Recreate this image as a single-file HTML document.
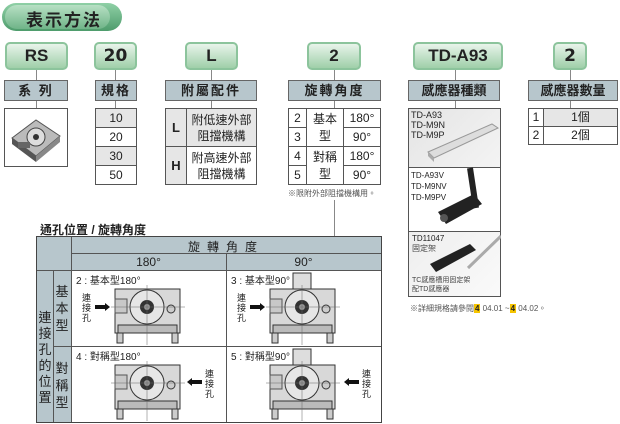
<!DOCTYPE html>
<html><head><meta charset="utf-8"><style>
*{margin:0;padding:0;box-sizing:border-box}
body{width:620px;height:424px;background:#fff;position:relative;overflow:hidden;font-family:"Liberation Sans","Noto Sans CJK TC",sans-serif;color:#222}
.a{position:absolute}
.g{position:absolute;border:2px solid #8cc49c;border-radius:5px;background:linear-gradient(#e8f4ea,#9fcfa9);text-align:center;font-weight:bold;font-size:17px;line-height:24px;color:#222}
.h{position:absolute;background:#b7c6cc;border:1px solid #666;text-align:center;font-size:13px;font-weight:bold;line-height:19px;letter-spacing:2px;top:80px;height:21px}
.c{position:absolute;border:1px solid #555;text-align:center;font-size:12px}
.gr{background:#e6e6e6}
.v{position:absolute;width:1px;background:#888}
</style></head><body>
<div class="a" style="left:2px;top:3px;width:120px;height:28px;border-radius:14px;background:linear-gradient(#8fd0a6,#4e9c6c);"></div>
<div class="a" style="left:5px;top:5px;width:105px;height:24px;border-radius:12px;background:linear-gradient(#b7e0c4,#6fb488);"></div>
<div class="a" style="left:26px;top:6px;font-size:17px;font-weight:bold;letter-spacing:2px;color:#222">表示方法</div>

<div class="g" style="left:5px;top:42px;width:63px;height:28px">RS</div>
<div class="g" style="left:94px;top:42px;width:43px;height:28px;font-family:'DejaVu Sans',sans-serif">20</div>
<div class="g" style="left:185px;top:42px;width:53px;height:28px">L</div>
<div class="g" style="left:307px;top:42px;width:54px;height:28px">2</div>
<div class="g" style="left:413px;top:42px;width:90px;height:28px">TD-A93</div>
<div class="g" style="left:553px;top:42px;width:34px;height:28px;font-family:'DejaVu Sans',sans-serif">2</div>

<div class="v" style="left:36px;top:70px;height:10px"></div>
<div class="v" style="left:115px;top:70px;height:10px"></div>
<div class="v" style="left:211px;top:70px;height:10px"></div>
<div class="v" style="left:334px;top:70px;height:10px"></div>
<div class="v" style="left:455px;top:70px;height:10px"></div>
<div class="v" style="left:570px;top:70px;height:10px"></div>
<div class="v" style="left:36px;top:101px;height:7px"></div>
<div class="v" style="left:115px;top:101px;height:7px"></div>
<div class="v" style="left:211px;top:101px;height:7px"></div>
<div class="v" style="left:334px;top:101px;height:7px"></div>
<div class="v" style="left:455px;top:101px;height:7px"></div>
<div class="v" style="left:570px;top:101px;height:7px"></div>

<div class="h" style="left:4px;width:64px">系 列</div>
<div class="h" style="left:95px;width:42px">規格</div>
<div class="h" style="left:165px;width:92px">附屬配件</div>
<div class="h" style="left:288px;width:93px">旋轉角度</div>
<div class="h" style="left:408px;width:92px;letter-spacing:0">感應器種類</div>
<div class="h" style="left:528px;width:90px;letter-spacing:0">感應器數量</div>

<!-- series image -->
<div class="c" style="left:4px;top:108px;width:64px;height:59px"></div>
<svg class="a" style="left:6px;top:110px" width="60" height="55">
<polygon points="6,28 30,10 54,26 30,46" fill="#bbb" stroke="#555"/>
<polygon points="6,28 30,46 30,52 6,34" fill="#555"/>
<polygon points="30,46 54,26 54,32 30,52" fill="#888"/>
<circle cx="30" cy="27" r="9" fill="#ddd" stroke="#444"/><circle cx="30" cy="27" r="3" fill="#333"/>
<rect x="12" y="32" width="12" height="6" fill="#666"/>
</svg>

<!-- size -->
<div class="c gr" style="left:95px;top:108px;width:42px;height:20px;line-height:18px">10</div>
<div class="c" style="left:95px;top:127px;width:42px;height:20px;line-height:18px">20</div>
<div class="c gr" style="left:95px;top:146px;width:42px;height:20px;line-height:18px">30</div>
<div class="c" style="left:95px;top:165px;width:42px;height:20px;line-height:18px">50</div>

<!-- accessory -->
<div class="c gr" style="left:165px;top:108px;width:22px;height:39px;line-height:37px;font-weight:bold;font-size:13px">L</div>
<div class="c gr" style="left:186px;top:108px;width:71px;height:39px;line-height:16px;padding-top:3px">附低速外部<br>阻擋機構</div>
<div class="c gr" style="left:165px;top:146px;width:22px;height:39px;line-height:37px;font-weight:bold;font-size:13px">H</div>
<div class="c" style="left:186px;top:146px;width:71px;height:39px;line-height:16px;padding-top:3px">附高速外部<br>阻擋機構</div>

<!-- rotation -->
<div class="c" style="left:288px;top:108px;width:19px;height:20px;line-height:18px">2</div>
<div class="c" style="left:288px;top:127px;width:19px;height:20px;line-height:18px">3</div>
<div class="c" style="left:288px;top:146px;width:19px;height:20px;line-height:18px">4</div>
<div class="c" style="left:288px;top:165px;width:19px;height:20px;line-height:18px">5</div>
<div class="c" style="left:306px;top:108px;width:38px;height:39px;line-height:17px;padding-top:2px">基本<br>型</div>
<div class="c" style="left:306px;top:146px;width:38px;height:39px;line-height:17px;padding-top:2px">對稱<br>型</div>
<div class="c" style="left:343px;top:108px;width:38px;height:20px;line-height:18px">180°</div>
<div class="c" style="left:343px;top:127px;width:38px;height:20px;line-height:18px">90°</div>
<div class="c" style="left:343px;top:146px;width:38px;height:20px;line-height:18px">180°</div>
<div class="c" style="left:343px;top:165px;width:38px;height:20px;line-height:18px">90°</div>
<div class="a" style="left:288px;top:188px;font-size:8px;color:#555">※限附外部阻擋機構用。</div>
<div class="v" style="left:334px;top:200px;height:36px"></div>

<!-- sensors -->
<div class="c" style="left:408px;top:108px;width:93px;height:189px;text-align:left"></div>
<div class="a" style="left:409px;top:109px;width:91px;height:59px;background:linear-gradient(135deg,#e4e4e4,#f4f4f4)"></div>
<div class="a" style="left:408px;top:167px;width:93px;height:1px;background:#555"></div>
<div class="a" style="left:408px;top:231px;width:93px;height:1px;background:#555"></div>
<div class="a" style="left:409px;top:232px;width:91px;height:64px;background:linear-gradient(135deg,#eee,#fafafa)"></div>
<svg class="a" style="left:408px;top:108px" width="93" height="189">
<polygon points="20,44 84,16 90,20 26,50" fill="#ddd" stroke="#999"/>
<polygon points="20,44 26,50 26,54 20,48" fill="#aaa"/>
<path d="M62,60 L68,100" stroke="#222" stroke-width="6"/>
<polygon points="30,104 66,86 74,96 38,116" fill="#222"/>
<circle cx="36" cy="110" r="4" fill="#555"/>
<path d="M60,160 L93,128" stroke="#aaa" stroke-width="3"/>
<polygon points="22,156 62,136 68,142 28,164" fill="#222"/>
</svg>
<div class="a" style="left:411px;top:110px;font-size:9px;line-height:10px">TD-A93<br>TD-M9N<br>TD-M9P</div>
<div class="a" style="left:411px;top:170px;font-size:8px;line-height:11px">TD-A93V<br>TD-M9NV<br>TD-M9PV</div>
<div class="a" style="left:412px;top:234px;font-size:8px;line-height:10px">TD11047<br><span style="color:#444">固定架</span></div>
<div class="a" style="left:412px;top:276px;font-size:7px;line-height:9px;color:#444">TC感應槽用固定架<br>配TD感應器</div>
<div class="a" style="left:410px;top:303px;font-size:8px;color:#555">※詳細規格請參閱<span style="background:#f5c400;color:#222;padding:0 1px;font-weight:bold">4</span> 04.01 ~<span style="background:#f5c400;color:#222;padding:0 1px;font-weight:bold">4</span> 04.02。</div>

<!-- count -->
<div class="c" style="left:528px;top:108px;width:16px;height:19px;line-height:17px">1</div>
<div class="c gr" style="left:543px;top:108px;width:75px;height:19px;line-height:17px">1個</div>
<div class="c" style="left:528px;top:126px;width:16px;height:19px;line-height:17px">2</div>
<div class="c" style="left:543px;top:126px;width:75px;height:19px;line-height:17px">2個</div>

<!-- bottom table -->
<div class="a" style="left:40px;top:221px;font-size:12px;font-weight:bold">通孔位置 / 旋轉角度</div>
<div class="a" style="left:36px;top:236px;width:346px;height:187px;border:1.5px solid #444;background:#fff"></div>
<div class="a" style="left:37px;top:237px;width:34px;height:185px;background:#b7c6cc"></div>
<div class="a" style="left:71px;top:237px;width:310px;height:33px;background:#b7c6cc"></div>
<div class="a" style="left:71px;top:253px;width:310px;height:1px;background:#555"></div>
<div class="a" style="left:37px;top:270px;width:344px;height:1px;background:#555"></div>
<div class="a" style="left:53px;top:346px;width:328px;height:1px;background:#555"></div>
<div class="a" style="left:53px;top:270px;width:1px;height:152px;background:#555"></div>
<div class="a" style="left:71px;top:237px;width:1px;height:185px;background:#555"></div>
<div class="a" style="left:226px;top:253px;width:1px;height:169px;background:#555"></div>
<div class="a" style="left:71px;top:238px;width:310px;text-align:center;font-size:12px;letter-spacing:7px">旋轉角度</div>
<div class="a" style="left:71px;top:255px;width:155px;text-align:center;font-size:12px">180°</div>
<div class="a" style="left:226px;top:255px;width:155px;text-align:center;font-size:12px">90°</div>
<div class="a" style="left:38px;top:310px;width:14px;font-size:13px;line-height:16px;text-align:center">連接孔的位置</div>
<div class="a" style="left:55px;top:283px;width:14px;font-size:13px;line-height:17px;text-align:center">基本型</div>
<div class="a" style="left:55px;top:360px;width:14px;font-size:13px;line-height:17px;text-align:center">對稱型</div>
<div class="a" style="left:76px;top:272px;font-size:10px">2 : 基本型180°</div>
<div class="a" style="left:231px;top:272px;font-size:10px">3 : 基本型90°</div>
<div class="a" style="left:76px;top:348px;font-size:10px">4 : 對稱型180°</div>
<div class="a" style="left:231px;top:348px;font-size:10px">5 : 對稱型90°</div>
<div class="a" style="left:82px;top:293px;width:10px;font-size:9px;line-height:10px">連接孔</div>
<div class="a" style="left:237px;top:293px;width:10px;font-size:9px;line-height:10px">連接孔</div>
<div class="a" style="left:205px;top:369px;width:10px;font-size:9px;line-height:10px">連接孔</div>
<div class="a" style="left:362px;top:369px;width:10px;font-size:9px;line-height:10px">連接孔</div>
<svg class="a" style="left:0;top:0" width="620" height="424">
<defs>
<g id="m">
<rect x="0" y="0" width="65" height="44" fill="#d8d8d8" stroke="#333"/>
<rect x="3" y="36" width="59" height="8" fill="#bbb" stroke="#333"/>
<rect x="2" y="44" width="6" height="10" fill="#ccc" stroke="#333"/>
<rect x="57" y="44" width="6" height="10" fill="#ccc" stroke="#333"/>
<circle cx="32" cy="18" r="17" fill="#e6e6e6" stroke="#333"/>
<circle cx="32" cy="18" r="7" fill="#333"/>
<circle cx="32" cy="18" r="3" fill="#999"/>
<circle cx="56" cy="20" r="4" fill="#ccc" stroke="#333"/>
<rect x="0" y="10" width="12" height="14" fill="#c8c8c8" stroke="#555"/>
<line x1="32" y1="-4" x2="32" y2="56" stroke="#666" stroke-width="0.5"/>
<line x1="-4" y1="18" x2="70" y2="18" stroke="#666" stroke-width="0.5"/>
</g>
<g id="t"><rect x="23" y="-16" width="18" height="16" fill="#ddd" stroke="#333"/></g>
<polygon id="ar" points="0,-2 10,-2 10,-4 15,0 10,4 10,2 0,2" fill="#111"/>
</defs>
<use href="#m" x="115" y="289"/>
<use href="#t" x="270" y="289"/><use href="#m" x="270" y="289"/>
<use href="#m" x="115" y="365"/>
<use href="#t" x="270" y="365"/><use href="#m" x="270" y="365"/>
<use href="#ar" x="95" y="307"/>
<use href="#ar" x="250" y="307"/>
<use href="#ar" transform="translate(202,382) scale(-1,1)"/>
<use href="#ar" transform="translate(359,382) scale(-1,1)"/>
</svg>
</body></html>
